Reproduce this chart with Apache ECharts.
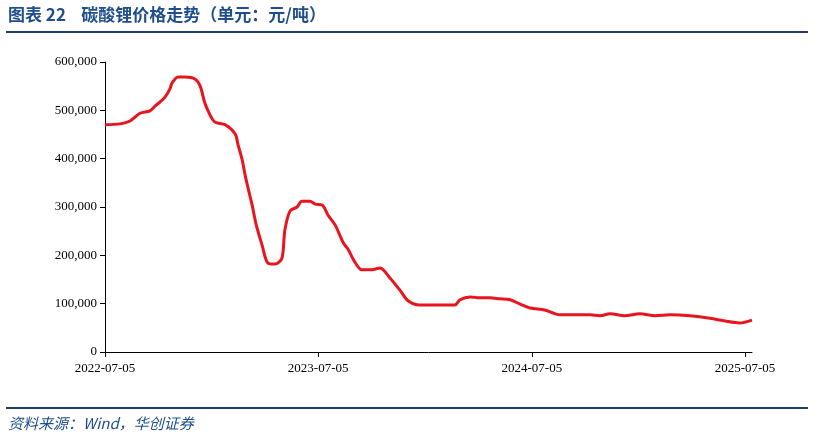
<!DOCTYPE html>
<html>
<head>
<meta charset="utf-8">
<script src="https://cdn.jsdelivr.net/npm/echarts@6/dist/echarts.min.js"></script>
<style>
  html, body { margin: 0; padding: 0; background: #fff; }
  #main { width: 814px; height: 440px; }
</style>
</head>
<body>
<div id="main"></div>
<script>
// 横轴：距 2022-07-05 的天数
var days = [0, 26, 43, 60, 77, 86, 94, 103, 111, 115, 125, 137, 154, 163, 171, 180, 188, 206, 223, 228,
  235, 240, 245, 252, 259, 269, 279, 291, 303, 308, 317, 329, 337, 351, 360, 372, 382, 394, 408, 416,
  428, 440, 457, 471, 488, 505, 519, 539, 574, 599, 608, 625, 642, 659, 676, 694, 711, 728, 753, 779,
  805, 831, 848, 865, 890, 916, 942, 968, 1002, 1036, 1062, 1087, 1108];
// 碳酸锂价格（元/吨）
var prices = [470000, 472000, 478000, 494000, 499000, 509000, 517000, 528000, 544000, 557000, 569000, 569000,
  565000, 550000, 515000, 490000, 476000, 470000, 451000, 428000, 397000, 366000, 339000, 304000, 263000,
  221000, 184000, 182000, 194000, 252000, 292000, 300000, 312000, 312000, 306000, 304000, 283000, 263000,
  226000, 213000, 186000, 170000, 170000, 174000, 153000, 128000, 106000, 97000, 97000, 97000, 108000,
  114000, 112000, 112000, 110000, 108000, 99000, 91000, 87000, 77000, 77000, 77000, 75000, 79000, 75000,
  79000, 75000, 77000, 75000, 70000, 64000, 60000, 66000];
var tickDays = [0, 365, 731, 1096];
var tickLabels = ['2022-07-05', '2023-07-05', '2024-07-05', '2025-07-05'];

var chart = echarts.init(document.getElementById('main'));
var seriesData = days.map(function (d, i) { return [d, prices[i]]; });

var option = {
  animation: false,
  textStyle: { fontFamily: 'Times New Roman, Liberation Serif, serif' },
  graphic: [
    { type: 'text', left: 8, top: 6, style: { text: '图表 22    碳酸锂价格走势（单元：元/吨）', fill: '#1f4e8c',
      font: 'bold 17px "Noto Sans CJK SC", "Liberation Serif"' } },
    { type: 'rect', shape: { x: 6, y: 31, width: 802, height: 2 }, style: { fill: '#1f3c6e' } },
    { type: 'rect', shape: { x: 6, y: 407, width: 802, height: 2 }, style: { fill: '#1f3c6e' } },
    { type: 'text', left: 8, top: 416, style: { text: '资料来源：Wind，华创证券', fill: '#1f4e8c',
      font: 'italic 15px "Noto Sans CJK SC", "Liberation Serif"' } }
  ],
  grid: { left: 105, right: 62, top: 62, bottom: 88 },
  xAxis: {
    type: 'value', min: 0, max: 1108,
    axisLine: { lineStyle: { color: '#000' } },
    splitLine: { show: false },
    axisTick: { customValues: tickDays, length: 5, lineStyle: { color: '#000' } },
    axisLabel: { customValues: tickDays, color: '#000', fontSize: 13, margin: 10,
      fontFamily: 'Liberation Serif',
      formatter: function (v) { return tickLabels[tickDays.indexOf(v)] || ''; } }
  },
  yAxis: {
    type: 'value', min: 0, max: 600000, interval: 100000,
    axisLine: { show: true, lineStyle: { color: '#000' } },
    axisTick: { show: true, inside: false, length: 5, lineStyle: { color: '#000' } },
    splitLine: { show: false },
    axisLabel: { color: '#000', fontSize: 13, fontFamily: 'Liberation Serif',
      formatter: function (v) { return v.toLocaleString('en-US'); } }
  },
  series: [{
    type: 'line', data: seriesData, showSymbol: false, smooth: 0.3,
    lineStyle: { color: '#e8141e', width: 3 }
  }]
};
chart.setOption(option);
</script>
</body>
</html>
